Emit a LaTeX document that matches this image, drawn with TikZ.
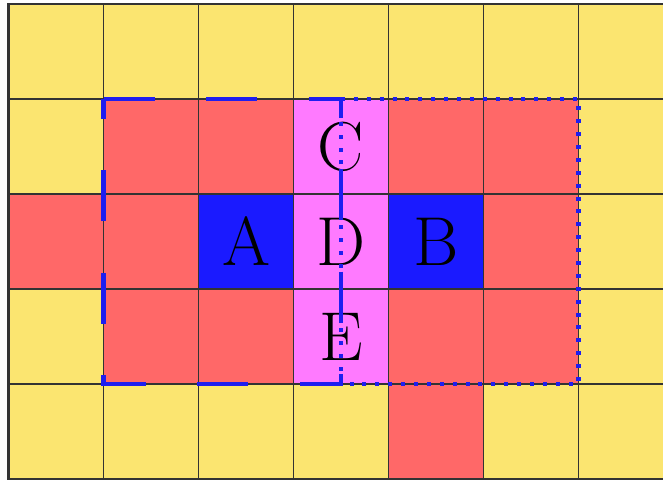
\documentclass[tikz,border=0pt]{standalone}
\usepackage{xcolor}
\usepackage{tikz}
\definecolor{cellyellow}{RGB}{251, 229, 112}
\definecolor{cellred}{RGB}{255, 104, 104}
\definecolor{cellpink}{RGB}{255, 122, 255}
\definecolor{cellblue}{RGB}{26, 26, 255}
\definecolor{framblue}{RGB}{30, 30, 240}

\begin{document}
\begin{tikzpicture}[
    gridline/.style={draw=black!80, line width=0.5pt},
    letter/.style={font=\huge, inner sep=0pt},
    frame/.style={draw=framblue, line width=1.25pt},
    longdash/.style={frame, dash pattern=on 0.537cm off 0.542cm},
    shortdot/.style={frame, dash pattern=on 1.2pt off 2.66pt}
]
    \useasboundingbox (-0.0895, 0) rectangle (6.889, 5.042);
    \clip (-0.0895, 0) rectangle (6.889, 5.042);

    % Cells
    \fill[cellyellow] (0, 0) rectangle (7, 5);
    \foreach \c/\r in {1/3, 2/3, 4/3, 5/3, 0/2, 1/2, 5/2, 1/1, 2/1, 4/1, 5/1, 4/0}
        \fill[cellred] (\c, \r) rectangle ++(1, 1);
    \foreach \r in {1, 2, 3}
        \fill[cellpink] (3, \r) rectangle ++(1, 1);
    \fill[cellblue] (2, 2) rectangle ++(1, 1);
    \fill[cellblue] (4, 2) rectangle ++(1, 1);

    % Grid
    \draw[gridline] (0, 0) grid (7, 5);
    \draw[gridline, line width=0.7pt] (0, 0) rectangle (7, 5);

    % Letters
    \node[letter] (A) at (2.5, 2.5) {A};
    \node[letter] (B) at (4.5, 2.5) {B};
    \node[letter] (C) at (3.5, 3.5) {C};
    \node[letter] (D) at (3.5, 2.5) {D};
    \node[letter] (E) at (3.5, 1.5) {E};

    % Regions
    \coordinate (lefttop) at (1, 4);
    \coordinate (midtop) at (3.5, 4);
    \coordinate (midbot) at (3.5, 1);
    \coordinate (leftbot) at (1, 1);
    \coordinate (righttop) at (6, 4);
    \coordinate (rightbot) at (6, 1);
    \draw[longdash] (lefttop) -- (midtop) -- (midbot) -- (leftbot) -- cycle;
    \draw[shortdot] (midtop) -- (righttop) -- (rightbot) -- (midbot) -- cycle;
\end{tikzpicture}
\end{document}
